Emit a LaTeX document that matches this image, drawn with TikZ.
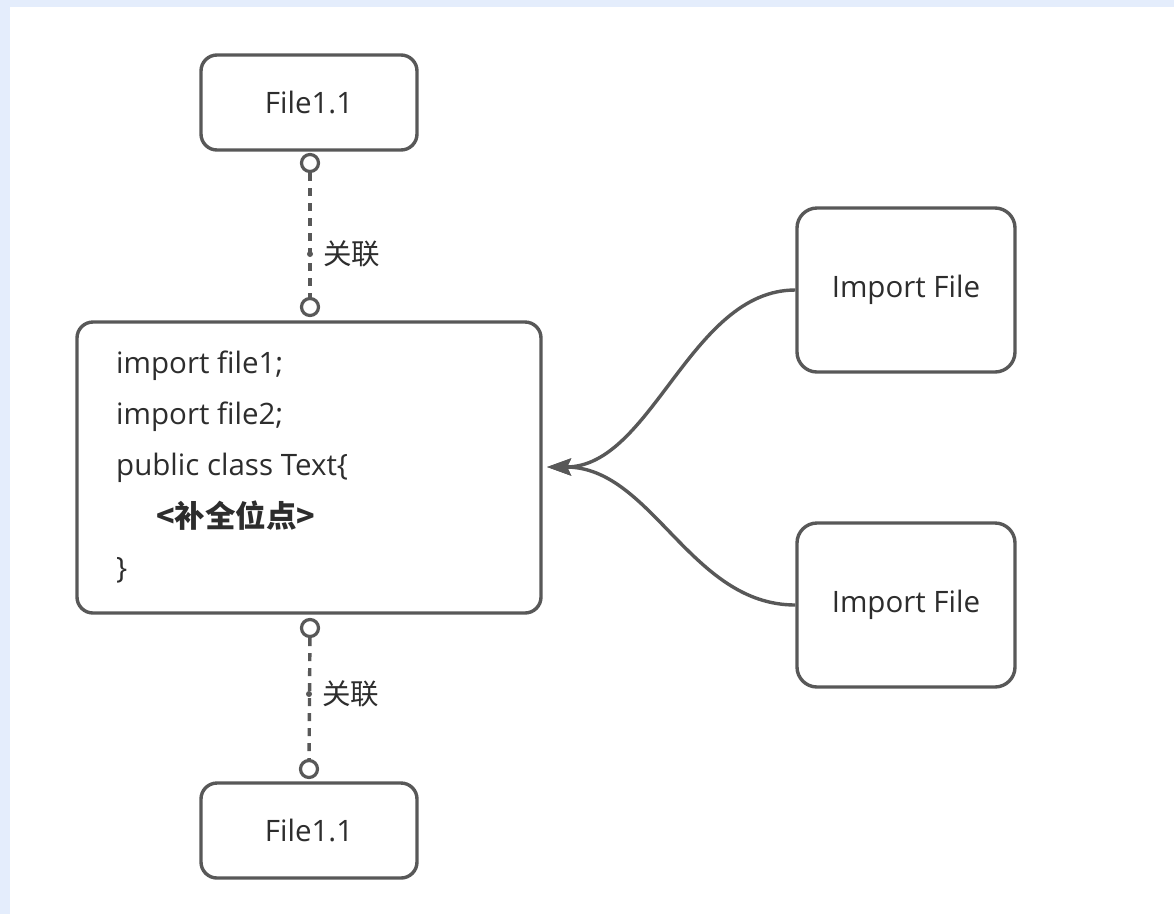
\documentclass[tikz,border=0pt]{standalone}
\usepackage{fontspec}
\setmainfont{Open Sans}
\newfontfamily\cjk{Noto Sans CJK SC}
\usetikzlibrary{arrows.meta}
\definecolor{bgblue}{RGB}{228,237,252}
\definecolor{edgegray}{RGB}{88,88,88}
\definecolor{txt}{RGB}{45,45,45}
\begin{document}
\begin{tikzpicture}[x=1pt,y=-1pt,
  box/.style={draw=edgegray, line width=3.4pt, fill=white, inner sep=0pt, text=txt,
    font=\fontsize{29.5}{35}\selectfont},
  codeline/.style={anchor=base west, inner sep=0pt, text=txt, font=\fontsize{29.5}{35}\selectfont},
  port/.style={circle, draw=edgegray, line width=3.2pt, fill=white, minimum size=17pt, inner sep=0pt},
  assoc/.style={draw=edgegray, line width=3.4pt, dash pattern=on 8pt off 7pt},
  midmark/.style={circle, fill=edgegray, minimum size=6pt, inner sep=0pt},
  assoclabel/.style={anchor=west, inner sep=0pt, text=txt, font=\cjk\fontsize{28.5}{33}\selectfont},
  flow/.style={draw=edgegray, line width=3.4pt, -{Stealth[length=24pt,width=17pt,inset=4pt]}}
]
\useasboundingbox (0,0) rectangle (1174,914);
\fill[bgblue] (0,0) rectangle (1174,914);
\fill[white] (10,7) rectangle (1174,914);

% boxes
\node[box, rounded corners=16pt, minimum width=216pt, minimum height=95pt] (ftop) at (309,102.5) {File1.1};
\node[box, rounded corners=16pt, minimum width=216pt, minimum height=95pt] (fbot) at (309,830.5) {File1.1};
\node[box, rounded corners=16pt, minimum width=464pt, minimum height=291pt] (main) at (309,467.5) {};
\node[box, rounded corners=20pt, minimum width=218pt, minimum height=164pt] (imp1) at (906,290) {Import File};
\node[box, rounded corners=20pt, minimum width=218pt, minimum height=164pt] (imp2) at (906,605) {Import File};

% code text
\node[codeline] (l1) at (116,373) {import file1;};
\node[codeline] (l2) at (116,424) {import file2;};
\node[codeline] (l3) at (116,475) {public class Text\{};
\node[codeline, font=\cjk\bfseries\fontsize{30.5}{36}\selectfont] (l4) at (156,527) {<补全位点>};
\node[codeline] (l5) at (116,578) {\}};

% top association
\node[port] (pt1) at (310,163) {};
\node[port] (pt2) at (310,307) {};
\draw[assoc] (pt1) -- (pt2);
\node[midmark] (mt) at (310,254) {};
\node[assoclabel] (lt) at (323,254) {关联};

% bottom association
\node[port] (pb1) at (310,628) {};
\node[port] (pb2) at (309,769) {};
\draw[assoc] (pb1) -- (pb2);
\node[midmark] (mb) at (309,694) {};
\node[assoclabel] (lb) at (322,694) {关联};

% import flows
\coordinate (tip) at (547,467);
\draw[flow] (imp1.west) .. controls +(-105,0) and ([xshift=105pt]tip) .. (tip);
\draw[flow] (imp2.west) .. controls +(-105,0) and ([xshift=105pt]tip) .. (tip);
\end{tikzpicture}
\end{document}
